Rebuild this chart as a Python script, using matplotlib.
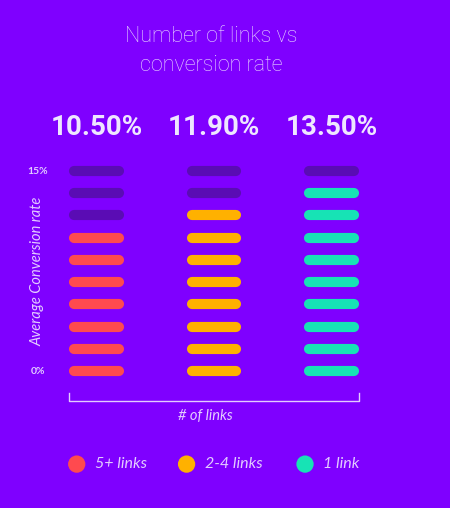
import matplotlib.pyplot as plt

# data
categories = ["5+ links", "2-4 links", "1 link"]
rates = [10.5, 11.9, 13.5]
colors = ["#FF4A4F", "#FFB100", "#17E3B5"]
y_max = 15
n_rows = 10
y_tick_labels = ["0%", "15%"]

bg = "#7F00FF"
dim = "#5A0CB4"
pale = "#E3CCFF"

fig = plt.figure(figsize=(4.5, 5.08), dpi=100)
fig.patch.set_facecolor(bg)
ax = fig.add_axes([0, 0, 1, 1])
ax.set_facecolor(bg)
ax.set_xlim(-0.821, 3.009)
ax.set_ylim(-6.165, 16.695)
ax.axis("off")

half = 0.19
step = y_max / n_rows
for i, (rate, col) in enumerate(zip(rates, colors)):
    filled = round(rate / step)
    for r in range(n_rows):
        c = col if r < filled else dim
        ax.plot([i - half, i + half], [r, r], color=c, lw=7.3,
                solid_capstyle="round")
    ax.text(i, 10.95, f"{rate:.2f}%", ha="center", va="center",
            fontsize=20, fontweight="bold", color="#EEE6FF", family="Roboto")

# title
ax.text(0.98, 14.38, "Number of links vs\nconversion rate", ha="center", va="center",
        fontsize=15.5, fontweight="light", color="#E8D6FF", family="Roboto",
        linespacing=1.5)

# y axis labels
ax.text(-0.50, 0, y_tick_labels[0], ha="center", va="center", fontsize=7.5,
        fontweight="bold", color=pale, family="Lato")
ax.text(-0.50, n_rows - 1, y_tick_labels[1], ha="center", va="center", fontsize=7.5,
        fontweight="bold", color=pale, family="Lato")
ax.text(-0.50, 4.5, "Average Conversion rate", ha="center", va="center",
        rotation=90, fontsize=10.5, style="italic", color=pale, family="Lato")

# bracket
xl, xr = -0.234, 2.234
ax.plot([xl, xl, xr, xr], [-0.99, -1.35, -1.35, -0.99], color=pale, lw=1)
ax.text(0.93, -2.03, "# of links", ha="center", va="center", fontsize=10.5,
        style="italic", color=pale, family="Lato")

# legend
leg_x = [-0.168, 0.767, 1.775]
for lx, col, lab in zip(leg_x, colors, categories):
    ax.scatter([lx], [-4.19], s=155, color=col, edgecolors="none")
    ax.text(lx + 0.155, -4.19, lab, ha="left", va="center", fontsize=11.5,
            style="italic", color=pale, family="Lato")

fig.savefig("out.png", dpi=100, facecolor=bg)
